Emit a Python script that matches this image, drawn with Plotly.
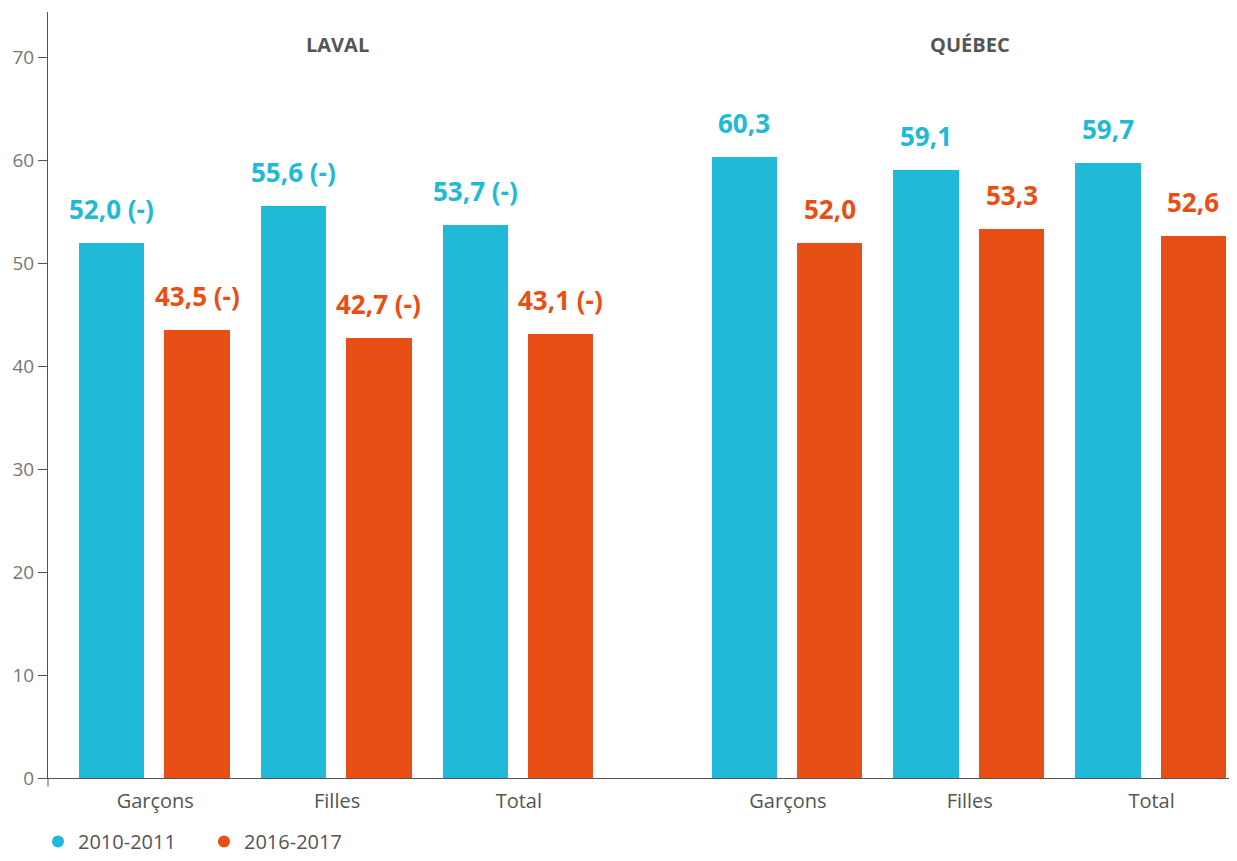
import plotly.graph_objects as go

# Données
categories = ["Garçons", "Filles", "Total", "Garçons", "Filles", "Total"]
positions = [0, 1, 2, 3.48, 4.48, 5.48]
groups = ["LAVAL", "QUÉBEC"]
group_centers = [1, 4.48]
series_names = ["2010-2011", "2016-2017"]
vals_2010 = [52.0, 55.6, 53.7, 60.3, 59.1, 59.7]
vals_2016 = [43.5, 42.7, 43.1, 52.0, 53.3, 52.6]
suffixes = [" (-)", " (-)", " (-)", "", "", ""]

BLEU = "#20b9d8"
ORANGE = "#e84f14"
POLICE = "Open Sans"

fig = go.Figure()

bar_width = 0.36
offsets = [-0.42, 0.05]
for vals, color, off in [(vals_2010, BLEU, offsets[0]), (vals_2016, ORANGE, offsets[1])]:
    fig.add_trace(go.Bar(
        x=positions, y=vals, width=bar_width, offset=off,
        marker=dict(color=color, line=dict(width=0)),
        showlegend=False, hoverinfo="y"
    ))

# Légende avec des cercles
for name, color in zip(series_names, [BLEU, ORANGE]):
    fig.add_trace(go.Scatter(
        x=[None], y=[None], mode="markers", name=name,
        marker=dict(color=color, size=15, symbol="circle")
    ))

# Étiquettes de valeurs
for vals, color, off in [(vals_2010, BLEU, offsets[0]), (vals_2016, ORANGE, offsets[1])]:
    for p, v, s in zip(positions, vals, suffixes):
        fig.add_annotation(
            x=p + off + bar_width / 2, y=v, xref="x", yref="y",
            text=f"<b>{v:.1f}".replace(".", ",") + s + "</b>",
            showarrow=False, yshift=34, yanchor="middle",
            font=dict(family=POLICE, size=26, color=color)
        )

# Titres de groupes
for g, c in zip(groups, group_centers):
    fig.add_annotation(
        x=c, y=0.958, xref="x", yref="paper", text=f"<b>{g}</b>",
        showarrow=False, yanchor="middle",
        font=dict(family=POLICE, size=20, color="#555555")
    )

# Prolongement de l'axe y sous l'axe x
fig.add_shape(type="line", xref="paper", yref="paper", x0=0, x1=0, y0=0, y1=-0.011,
              line=dict(color="#555555", width=1))

# la page ajoute une marge de 8 px autour de la figure
fig.update_layout(
    width=1229, height=853,
    margin=dict(l=40, r=0, t=4, b=83, autoexpand=False),
    plot_bgcolor="white", paper_bgcolor="white",
    font=dict(family=POLICE, color="#555555"),
    bargap=0,
    legend=dict(orientation="h", x=0.0244, xref="container", xanchor="left",
                y=0, yref="container", yanchor="bottom",
                font=dict(family=POLICE, size=20, color="#555555"),
                itemsizing="constant", tracegroupgap=0,
                entrywidth=121, entrywidthmode="pixels"),
    xaxis=dict(
        range=[-0.59, 5.95], tickmode="array", tickvals=positions, ticktext=categories,
        showline=True, linecolor="#555555", linewidth=1, showgrid=False,
        ticks="", zeroline=False, tickfont=dict(size=20, color="#555555"),
        ticklabelstandoff=5, automargin=False,
    ),
    yaxis=dict(
        range=[0, 74.4], tickvals=[0, 10, 20, 30, 40, 50, 60, 70],
        showline=True, linecolor="#555555", linewidth=1, showgrid=False,
        ticks="outside", ticklen=9, tickcolor="#555555", zeroline=False,
        tickfont=dict(size=19, color="#777777"), automargin=False,
    ),
)

fig.write_html("out.html")
